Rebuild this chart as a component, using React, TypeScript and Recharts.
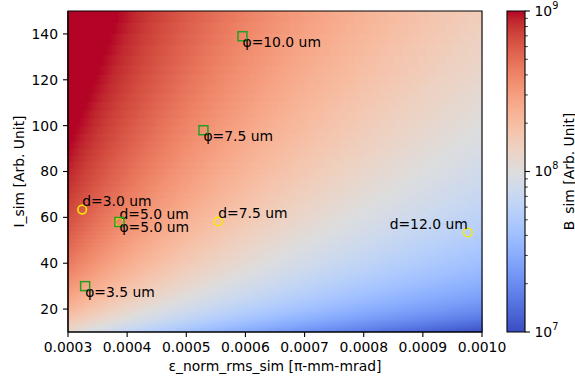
import React from "react";
import { ComposedChart, Bar, Cell, Scatter, XAxis, YAxis, ReferenceArea } from "recharts";

// akser
const EPS_MIN = 0.0003;
const EPS_MAX = 0.001;
const I_MIN = 10;
const I_MAX = 150;
const X_TICKS = [0.0003, 0.0004, 0.0005, 0.0006, 0.0007, 0.0008, 0.0009, 0.001];
const Y_TICKS = [20, 40, 60, 80, 100, 120, 140];
const B_MIN = 1e7;
const B_MAX = 1e9;
const CB_TICKS = [
  1e7, 2e7, 3e7, 4e7, 5e7, 6e7, 7e7, 8e7, 9e7,
  1e8, 2e8, 3e8, 4e8, 5e8, 6e8, 7e8, 8e8, 9e8,
  1e9,
];

// målepunkter (aflæst)
const PHI_EPS = [0.000595, 0.000529, 0.000387, 0.000329];
const PHI_I = [139, 98, 58, 30];
const PHI_LABELS = ["φ=10.0 um", "φ=7.5 um", "φ=5.0 um", "φ=3.5 um"];

const D_EPS = [0.000324, 0.000387, 0.000554, 0.000976];
const D_I = [63.4, 58, 58.2, 53.4];
const D_LABELS = ["d=3.0 um", "d=5.0 um", "d=7.5 um", "d=12.0 um"];
const D_ANCHOR = ["start", "start", "start", "end"];

const GREEN = "#23a023";
const YELLOW = "#f7ea00";
const FS = 13.9;

// matplotlib coolwarm
const CW = [
  [59, 76, 192], [68, 90, 204], [77, 104, 215], [87, 117, 225], [98, 130, 234],
  [108, 142, 241], [119, 154, 247], [130, 165, 251], [141, 176, 254], [152, 185, 255],
  [163, 194, 255], [174, 201, 253], [184, 208, 249], [194, 213, 244], [204, 217, 238],
  [213, 219, 230], [221, 221, 221], [229, 216, 209], [236, 211, 197], [241, 204, 185],
  [245, 196, 173], [247, 187, 160], [247, 177, 148], [247, 166, 135], [244, 154, 123],
  [241, 141, 111], [236, 127, 99], [229, 112, 88], [222, 96, 77], [213, 80, 66],
  [203, 62, 56], [192, 40, 47], [180, 4, 38],
];

function coolwarm(t: number): string {
  const c = Math.max(0, Math.min(1, t)) * (CW.length - 1);
  const i = Math.min(CW.length - 2, Math.floor(c));
  const f = c - i;
  const rgb = CW[i].map((v, k) => Math.round(v + (CW[i + 1][k] - v) * f));
  return `rgb(${rgb[0]},${rgb[1]},${rgb[2]})`;
}

// B_sim = I / eps^2, farvet log-skala 1e7..1e9
// plotbredde 414 px / 138 kolonner = 3 px (recharts runder søjlebredden ned)
const N_COLS = 138;
const N_ROWS = 80;
const colIdx = Array.from({ length: N_COLS }, (_, i) => i);
const rowIdx = Array.from({ length: N_ROWS }, (_, k) => k);
const rowEdges = Array.from({ length: N_ROWS + 1 }, (_, k) => I_MIN * Math.pow(I_MAX / I_MIN, k / N_ROWS));

const cells = colIdx.map((i) => {
  const row: Record<string, number> = { col: i, base: I_MIN };
  rowIdx.forEach((k) => {
    row[`r${k}`] = rowEdges[k + 1] - rowEdges[k];
  });
  return row;
});

const cellColor = colIdx.map((i) => {
  const eps = EPS_MIN + ((i + 0.5) * (EPS_MAX - EPS_MIN)) / N_COLS;
  return rowIdx.map((k) => {
    const I = Math.sqrt(rowEdges[k] * rowEdges[k + 1]);
    const b = I / (eps * eps);
    return coolwarm((Math.log10(b) - Math.log10(B_MIN)) / (Math.log10(B_MAX) - Math.log10(B_MIN)));
  });
});

const phiPoints = PHI_EPS.map((eps, i) => ({ eps, I: PHI_I[i], label: PHI_LABELS[i] }));
const dPoints = D_EPS.map((eps, i) => ({ eps, I: D_I[i], label: D_LABELS[i], anchor: D_ANCHOR[i] }));

function PhiMarker(props: any) {
  const { cx, cy, payload } = props;
  return (
    <g>
      <rect x={cx - 4.5} y={cy - 4.5} width={9} height={9} fill="none" stroke={GREEN} strokeWidth={1.5} />
      <text x={cx} y={cy + 10.5} fontSize={FS} fill="#000">
        {payload.label}
      </text>
    </g>
  );
}

function DMarker(props: any) {
  const { cx, cy, payload } = props;
  return (
    <g>
      <circle cx={cx} cy={cy} r={4.3} fill="none" stroke={YELLOW} strokeWidth={1.6} />
      <text x={cx} y={cy - 3.3} fontSize={FS} fill="#000" textAnchor={payload.anchor}>
        {payload.label}
      </text>
    </g>
  );
}

function CbTick(props: any) {
  const { x, y, payload } = props;
  const lg = Math.log10(payload.value);
  const exp = Math.round(lg);
  const major = Math.abs(lg - exp) < 1e-9;
  return (
    <g>
      <line x1={x} x2={x + (major ? 4.9 : 2.8)} y1={y} y2={y} stroke="#000" strokeWidth={major ? 1.1 : 0.8} />
      {major && (
        <text x={x + 9.5} y={y} dy="0.35em" fontSize={FS} fill="#000">
          10
          <tspan dy={-7} fontSize={9.7}>
            {exp}
          </tspan>
        </text>
      )}
    </g>
  );
}

const axisStroke = { stroke: "#000", strokeWidth: 1.1 };
const tickStyle = { fontSize: FS, fill: "#000" };

export default function App() {
  return (
    <div
      style={{
        position: "absolute",
        left: 0,
        top: 0,
        width: 575,
        height: 380,
        background: "#fff",
        fontFamily: "'DejaVu Sans', sans-serif",
      }}
    >
      <div style={{ position: "absolute", left: 0, top: 0 }}>
        <ComposedChart
          width={575}
          height={380}
          data={cells}
          margin={{ top: 11, right: 93, bottom: 0, left: 0 }}
          barCategoryGap={0}
          barGap={0}
        >
          <Bar xAxisId="cells" yAxisId="i" dataKey="base" stackId="h" fillOpacity={0} isAnimationActive={false} />
          {rowIdx.map((k) => (
            <Bar key={k} xAxisId="cells" yAxisId="i" dataKey={`r${k}`} stackId="h" isAnimationActive={false}>
              {colIdx.map((i) => (
                <Cell key={i} fill={cellColor[i][k]} stroke={cellColor[i][k]} strokeWidth={1.2} />
              ))}
            </Bar>
          ))}
          <XAxis xAxisId="cells" dataKey="col" type="category" height={0} hide />
          <XAxis
            xAxisId="eps"
            dataKey="eps"
            type="number"
            domain={[EPS_MIN, EPS_MAX]}
            ticks={X_TICKS}
            interval={0}
            allowDataOverflow
            tickFormatter={(v: number) => v.toFixed(4)}
            height={48}
            tickSize={5}
            tickMargin={5}
            tick={tickStyle}
            tickLine={axisStroke}
            axisLine={axisStroke}
            label={{ value: "ε_norm_rms_sim [π-mm-mrad]", position: "insideBottom", offset: 9, fontSize: FS, fill: "#000" }}
          />
          <XAxis
            xAxisId="top"
            orientation="top"
            type="number"
            domain={[EPS_MIN, EPS_MAX]}
            height={0}
            tick={false}
            tickLine={false}
            axisLine={axisStroke}
          />
          <YAxis
            yAxisId="i"
            type="number"
            domain={[I_MIN, I_MAX]}
            ticks={Y_TICKS}
            interval={0}
            allowDataOverflow
            width={68}
            tickSize={5}
            tickMargin={5}
            tick={tickStyle}
            tickLine={axisStroke}
            axisLine={axisStroke}
            label={{
              value: "I_sim [Arb. Unit]",
              angle: -90,
              position: "insideLeft",
              offset: 19,
              fontSize: FS,
              fill: "#000",
              style: { textAnchor: "middle" },
            }}
          />
          <YAxis
            yAxisId="right"
            orientation="right"
            type="number"
            domain={[I_MIN, I_MAX]}
            width={0}
            tick={false}
            tickLine={false}
            axisLine={axisStroke}
          />
          <ReferenceArea
            xAxisId="eps"
            yAxisId="i"
            x1={EPS_MIN}
            x2={EPS_MAX}
            y1={I_MIN}
            y2={I_MAX}
            fill="none"
            stroke="#000"
            strokeWidth={1.1}
            ifOverflow="visible"
            zIndex={700}
          />
          <Scatter xAxisId="eps" yAxisId="i" data={dPoints} dataKey="I" shape={DMarker} isAnimationActive={false} />
          <Scatter xAxisId="eps" yAxisId="i" data={phiPoints} dataKey="I" shape={PhiMarker} isAnimationActive={false} />
        </ComposedChart>
      </div>
      <div style={{ position: "absolute", left: 480, top: 0 }}>
        <ComposedChart
          width={95}
          height={380}
          data={[{ x: 0, v: B_MIN }, { x: 1, v: B_MAX }]}
          margin={{ top: 11, right: 0, bottom: 48, left: 27 }}
        >
          <defs>
            <linearGradient id="cbGrad" x1="0" y1="1" x2="0" y2="0">
              {CW.map((_, k) => (
                <stop key={k} offset={k / (CW.length - 1)} stopColor={coolwarm(k / (CW.length - 1))} />
              ))}
            </linearGradient>
          </defs>
          <XAxis dataKey="x" type="number" domain={[0, 1]} hide />
          <YAxis
            orientation="right"
            scale="log"
            type="number"
            domain={[B_MIN, B_MAX]}
            ticks={CB_TICKS}
            interval={0}
            allowDataOverflow
            width={50}
            tickSize={0}
            tickMargin={0}
            tickLine={false}
            axisLine={false}
            tick={<CbTick />}
            label={{
              value: "B_sim [Arb. Unit]",
              angle: -90,
              position: "insideRight",
              offset: 5.5,
              fontSize: FS,
              fill: "#000",
              style: { textAnchor: "middle" },
            }}
          />
          <Scatter dataKey="v" shape={() => <g />} isAnimationActive={false} />
          <ReferenceArea
            x1={0}
            x2={1}
            y1={B_MIN}
            y2={B_MAX}
            fill="url(#cbGrad)"
            fillOpacity={1}
            stroke="#000"
            strokeWidth={1.1}
            ifOverflow="visible"
          />
        </ComposedChart>
      </div>
    </div>
  );
}
